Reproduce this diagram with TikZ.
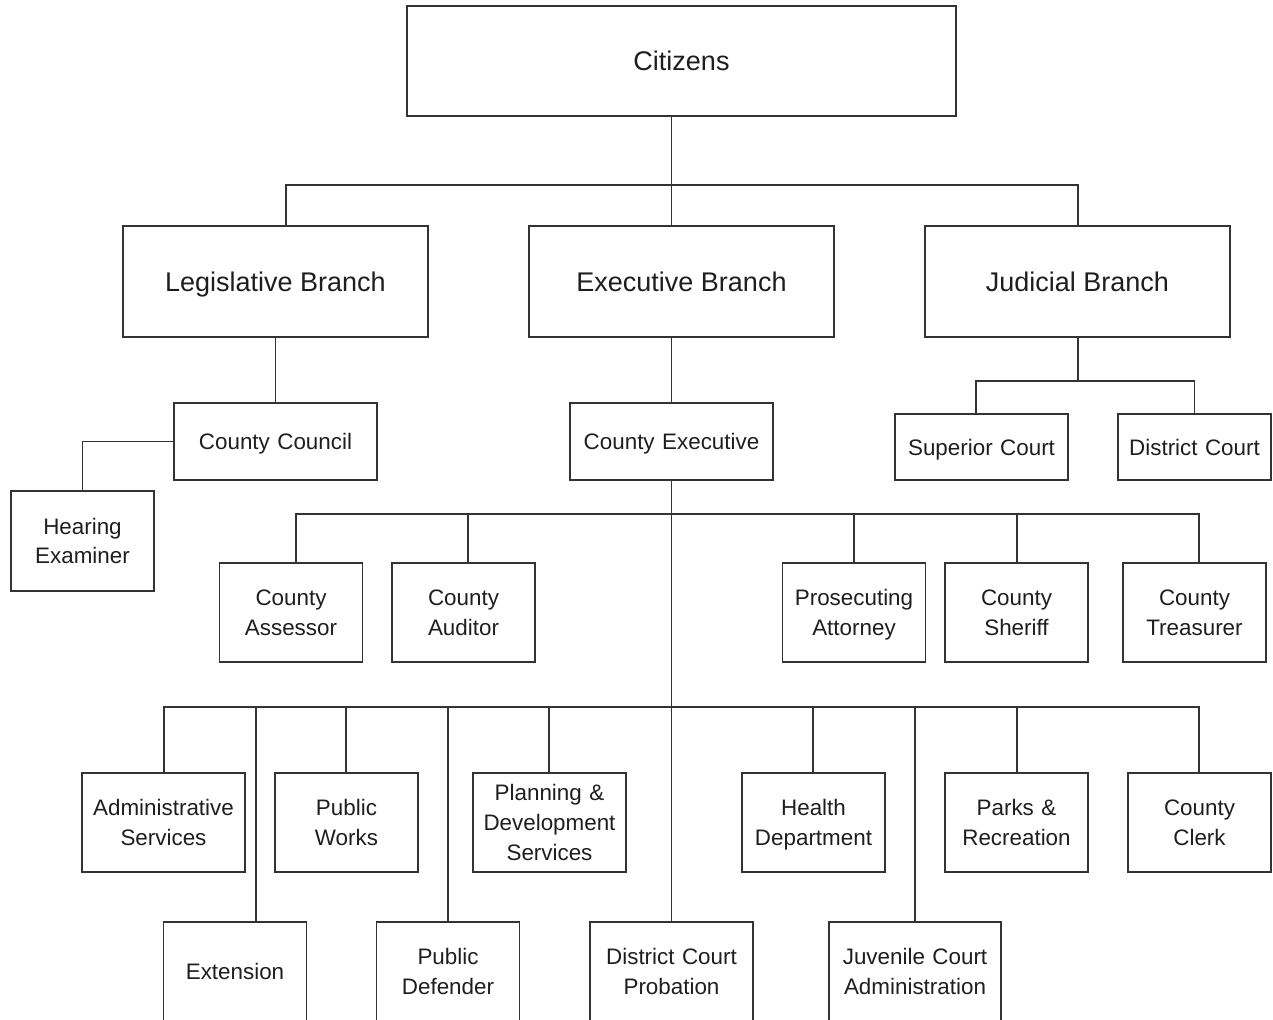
\documentclass[tikz,border=0pt]{standalone}
\usepackage{fontspec}
\setmainfont{Liberation Sans}
\definecolor{orgline}{HTML}{333333}
\definecolor{orgtext}{HTML}{1E1E1E}
\newcommand{\orgtop}{\rule{0pt}{1.06em}}
\newcommand{\orgbot}{\rule[-0.34em]{0pt}{0.34em}}

\begin{document}
\begin{tikzpicture}[
  x=0.5pt,
  y=-0.5pt,
  every node/.style={text=orgtext, align=center, execute at begin node=\orgtop, execute at end node=\orgbot},
  boxw/.style={minimum width=#1, text width=#1},
  branch/.style={draw=orgline, line width=0.8pt, inner sep=0pt, minimum width=152.5pt, minimum height=55.5pt, font=\fontsize{13.5}{16}\selectfont},
  office/.style={draw=orgline, line width=0.8pt, inner sep=0pt, boxw=71.5pt, minimum height=49.5pt, font=\fontsize{11.2}{14.8}\selectfont},
  link/.style={orgline, line width=0.8pt}
]
  \useasboundingbox (0,0) rectangle (1273,1019);

  % top levels
  \node[branch, minimum width=274.5pt, minimum height=55pt] (citizens) at (681.5,61) {Citizens};
  \node[branch] (legis) at (275.5,281.5) {Legislative Branch};
  \node[branch] (exec) at (681.5,281.5) {Executive Branch};
  \node[branch] (judic) at (1077.5,281.5) {Judicial Branch};

  \node[office, boxw=101.5pt, minimum height=38.5pt] (council) at (275.5,441.5) {County Council};
  \node[office, minimum height=50pt] (hearing) at (82.5,541) {Hearing\\Examiner};
  \node[office, boxw=101.5pt, minimum height=38.5pt] (cexec) at (671.5,441.5) {County Executive};
  \node[office, boxw=86.5pt, minimum height=33pt] (superior) at (981.5,447) {Superior Court};
  \node[office, boxw=76.5pt, minimum height=33pt] (district) at (1194.5,447) {District Court};

  % elected offices
  \node[office] (assessor) at (291,612.5) {County\\Assessor};
  \node[office] (auditor) at (463.5,612.5) {County\\Auditor};
  \node[office] (prosecut) at (854,612.5) {Prosecuting\\Attorney};
  \node[office] (sheriff) at (1016.5,612.5) {County\\Sheriff};
  \node[office] (treasurer) at (1194.5,612.5) {County\\Treasurer};

  % departments
  \node[office, boxw=81.5pt] (admin) at (163.5,822.5) {Administrative\\Services};
  \node[office] (works) at (346.5,822.5) {Public\\Works};
  \node[office, boxw=76.5pt] (planning) at (549.5,822.5) {Planning \&\\Development\\Services};
  \node[office] (health) at (813.5,822.5) {Health\\Department};
  \node[office] (parks) at (1016.5,822.5) {Parks \&\\Recreation};
  \node[office] (clerk) at (1199.5,822.5) {County\\Clerk};

  \node[office] (extension) at (235,971.5) {Extension};
  \node[office] (defender) at (448,971.5) {Public\\Defender};
  \node[office, boxw=81.5pt] (probation) at (671.5,971.5) {District Court\\Probation};
  \node[office, boxw=86pt] (juvenile) at (915,971.5) {Juvenile Court\\Administration};

  % connectors
  \coordinate (topL) at (286,185);
  \coordinate (topR) at (1078,185);
  \coordinate (courtbar) at (1078,381);
  \coordinate (rowA) at (671.5,514);
  \coordinate (rowB) at (671.5,707);

  \draw[link] (cexec.north |- citizens.south) -- (cexec.north |- exec.north);
  \draw[link] (legis.north -| topL) -- (topL) -- (topR) -- (judic.north -| topR);
  \draw[link] (legis.south -| council.north) -- (council.north);
  \draw[link] (council.west) -| (hearing.north);
  \draw[link] (exec.south -| cexec.north) -- (cexec.north);
  \draw[link] (judic.south -| courtbar) -- (courtbar);
  \draw[link] ([xshift=-2.75pt]superior.north) |- (courtbar) -| (district.north);
  \draw[link] (cexec.south) -- (probation.north);

  \foreach \n/\x in {assessor/296, auditor/468, prosecut/854, sheriff/1017, treasurer/1199}
    \draw[link] (rowA) -| (\n.north -| \x,0);
  \foreach \n/\x in {admin/164, works/346, planning/549, health/813, parks/1017, clerk/1199,
                     extension/256, defender/448, juvenile/915}
    \draw[link] (rowB) -| (\n.north -| \x,0);
\end{tikzpicture}
\end{document}
